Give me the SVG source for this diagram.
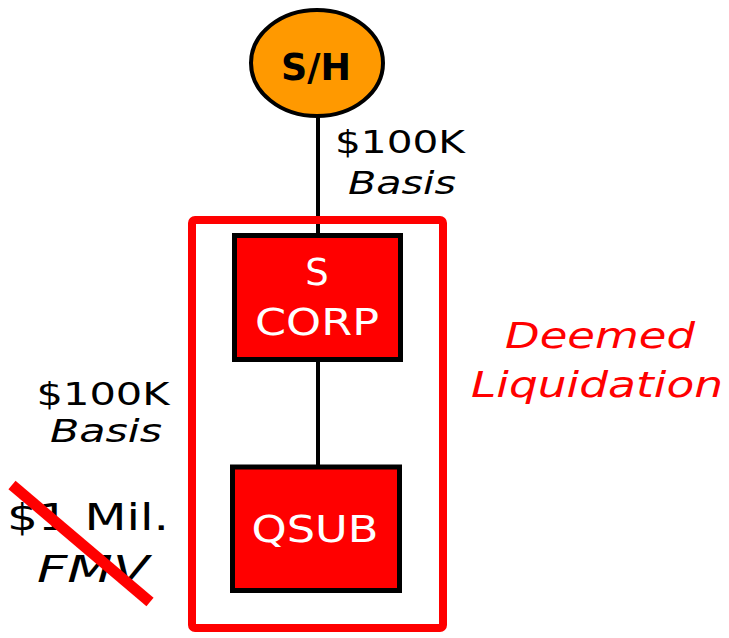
<svg xmlns="http://www.w3.org/2000/svg" width="729" height="638" viewBox="0 0 729 638">
<style>
.t{font-family:"DejaVu Sans","Liberation Sans",sans-serif;text-anchor:middle}
.blk{fill:#000}
.wht{fill:#fff}
.red{fill:#ff0000}
.it{font-style:italic}
.box{fill:#ff0000;stroke:#000;stroke-width:5}
.conn{stroke:#000;stroke-width:4;fill:none}
</style>
<rect width="729" height="638" fill="#fff"/>
<g id="connectors">
<line class="conn" x1="318" y1="116" x2="318" y2="235"/>
<line class="conn" x1="318" y1="360" x2="318" y2="467"/>
</g>
<g id="frame">
<rect x="192" y="220" width="251" height="408" rx="3" fill="none" stroke="#ff0000" stroke-width="8"/>
</g>
<g id="sh">
<ellipse cx="317" cy="63" rx="66" ry="53" fill="#ff9900" stroke="#000" stroke-width="4"/>
<text class="t blk" x="316" y="80" font-size="38" font-weight="bold" textLength="70" lengthAdjust="spacingAndGlyphs">S/H</text>
</g>
<g id="scorp">
<rect class="box" x="234.5" y="235.5" width="166" height="124"/>
<text class="t wht" x="317" y="285" font-size="37">S</text>
<text class="t wht" x="317" y="335" font-size="37" textLength="124" lengthAdjust="spacingAndGlyphs">CORP</text>
</g>
<g id="qsub">
<rect class="box" x="232.5" y="467" width="167" height="123.5"/>
<text class="t wht" x="315" y="542" font-size="37" textLength="127" lengthAdjust="spacingAndGlyphs">QSUB</text>
</g>
<g id="label-upper">
<text class="t blk" x="400" y="153" font-size="32" textLength="130" lengthAdjust="spacingAndGlyphs">$100K</text>
<text class="t blk it" x="402" y="194" font-size="32" textLength="108" lengthAdjust="spacingAndGlyphs">Basis</text>
</g>
<g id="label-left">
<text class="t blk" x="103" y="405" font-size="32" textLength="133" lengthAdjust="spacingAndGlyphs">$100K</text>
<text class="t blk it" x="106" y="442" font-size="32" textLength="112" lengthAdjust="spacingAndGlyphs">Basis</text>
<text class="t blk" x="88" y="530" font-size="38" textLength="162" lengthAdjust="spacingAndGlyphs">$1 Mil.</text>
<text class="t blk it" x="93" y="582" font-size="38" textLength="112" lengthAdjust="spacingAndGlyphs">FMV</text>
<line x1="12" y1="485" x2="150" y2="602" stroke="#ff0000" stroke-width="11"/>
</g>
<g id="label-deemed">
<text class="t red it" x="600" y="348" font-size="36" textLength="190" lengthAdjust="spacingAndGlyphs">Deemed</text>
<text class="t red it" x="597" y="397" font-size="36" textLength="252" lengthAdjust="spacingAndGlyphs">Liquidation</text>
</g>
</svg>
